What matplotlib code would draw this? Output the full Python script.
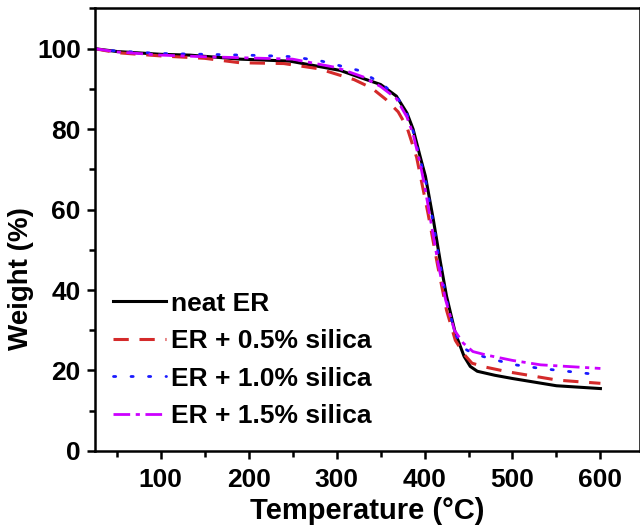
import matplotlib
matplotlib.use("Agg")
import matplotlib.pyplot as plt
from matplotlib.ticker import MultipleLocator

plt.rcParams['font.family'] = ['Liberation Sans', 'DejaVu Sans']
plt.rcParams['font.weight'] = 'bold'

# TGA data
temp_neat = [25, 50, 100, 133, 190, 247, 304, 330, 350, 368, 380, 387, 395, 401, 410, 418, 425, 435, 445, 452, 460, 480, 500, 550, 600]
w_neat = [100, 99.3, 98.6, 98.4, 97.4, 96.9, 94.6, 92.6, 91.1, 88.2, 84.0, 80.0, 73.2, 68.3, 57.5, 47.0, 38.5, 29.3, 23.5, 21.0, 19.8, 18.8, 18.0, 16.2, 15.5]

temp_05 = [25, 50, 100, 150, 190, 240, 280, 320, 340, 356, 370, 380, 391, 404, 415, 425, 435, 445, 454, 470, 494, 551, 600]
w_05 = [100, 99.0, 98.2, 97.6, 96.5, 96.3, 95.0, 92.3, 90.2, 87.4, 84.3, 80.5, 73.0, 59.0, 46.0, 35.0, 27.5, 24.0, 21.8, 20.8, 19.7, 17.6, 16.8]

temp_10 = [25, 50, 100, 150, 215, 250, 283, 325, 350, 368, 380, 387, 395, 401, 410, 418, 425, 435, 445, 455, 471, 500, 532, 600]
w_10 = [100, 99.4, 98.8, 98.6, 98.3, 98.0, 96.9, 94.6, 91.5, 88.3, 83.8, 79.5, 72.5, 67.5, 56.5, 46.0, 37.5, 29.0, 25.5, 24.2, 23.2, 21.5, 20.5, 18.9]

temp_15 = [25, 50, 100, 150, 200, 250, 300, 330, 350, 368, 380, 387, 395, 400, 408, 416, 424, 434, 444, 455, 471, 500, 532, 600]
w_15 = [100, 99.2, 98.4, 98.0, 97.7, 97.4, 95.3, 93.0, 90.6, 87.6, 83.0, 78.8, 71.5, 66.0, 56.0, 46.0, 37.5, 30.0, 26.8, 24.7, 23.8, 22.5, 21.4, 20.5]

labels = ['neat ER', 'ER + 0.5% silica', 'ER + 1.0% silica', 'ER + 1.5% silica']

fig = plt.figure(figsize=(6.4, 5.28), dpi=100)
ax = fig.add_axes([0.148, 0.146, 0.852, 0.838])

ax.plot(temp_neat, w_neat, color='black', lw=2.2, label=labels[0])
ax.plot(temp_05, w_05, color='#d42a2a', lw=2.2, dashes=(5, 3.5), label=labels[1])
ax.plot(temp_10, w_10, color='#1a1aff', lw=2.0, dashes=(0.8, 5.5), dash_capstyle='round', label=labels[2])
ax.plot(temp_15, w_15, color='#cc00ff', lw=2.0, dashes=(6, 2, 1.5, 2), label=labels[3])

ax.set_xlim(25, 645)
ax.set_ylim(0, 110)
ax.set_xticks([100, 200, 300, 400, 500, 600])
ax.xaxis.set_minor_locator(MultipleLocator(50))
ax.yaxis.set_major_locator(MultipleLocator(20))
ax.yaxis.set_minor_locator(MultipleLocator(10))
ax.tick_params(which='major', direction='out', length=6, width=1.8, labelsize=19, pad=6)
ax.tick_params(which='minor', direction='out', length=4, width=1.8)
ax.tick_params(axis='y', which='major', pad=4)
for s in ['left', 'bottom', 'top', 'right']:
    ax.spines[s].set_linewidth(1.8)

ax.set_xlabel('Temperature (°C)', fontsize=21, fontweight='bold', labelpad=4)
ax.set_ylabel('Weight (%)', fontsize=20, fontweight='bold')
ax.yaxis.set_label_coords(-0.112, 0.39)

ax.legend(loc='lower left', bbox_to_anchor=(0.0045, 0.016), frameon=False, fontsize=19,
          handlelength=2.0, handletextpad=0.2, labelspacing=0.51, borderaxespad=0.2)

fig.savefig('out.png', dpi=100)
